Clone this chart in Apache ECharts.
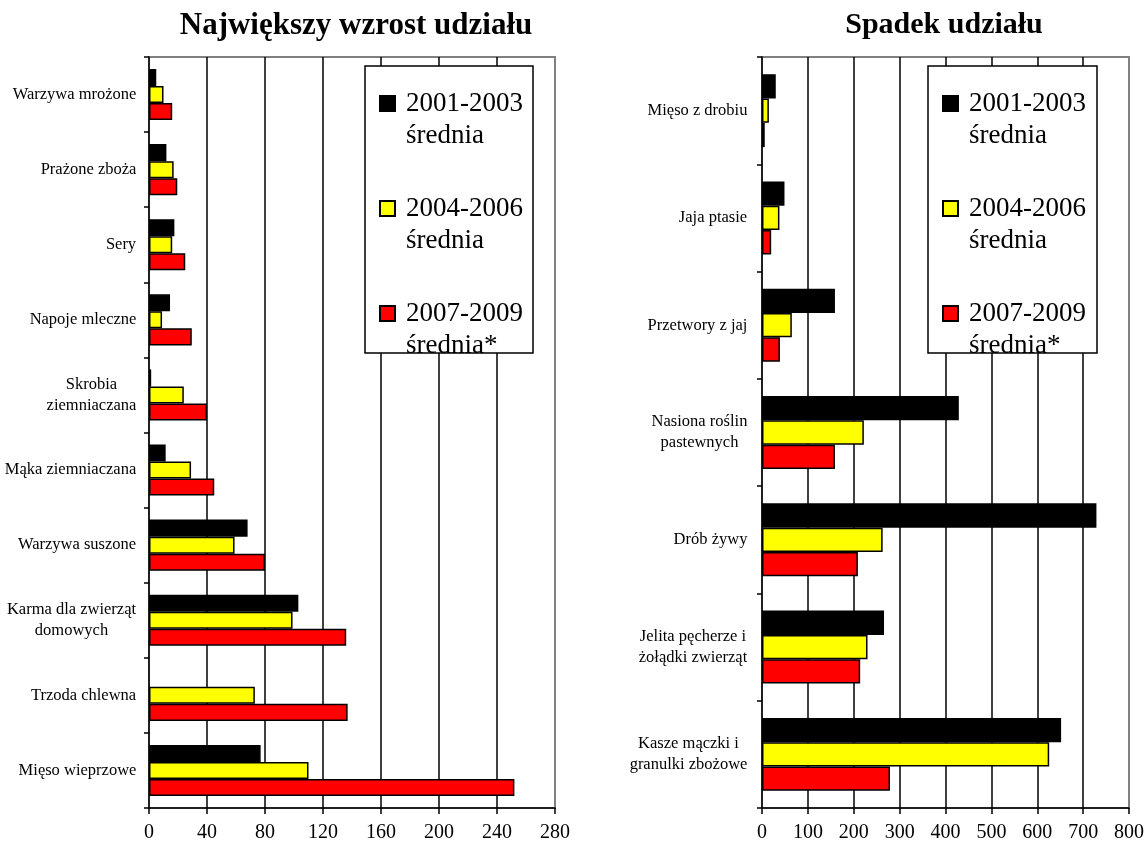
<!DOCTYPE html>
<html>
<head>
<meta charset="utf-8">
<script src="https://cdn.jsdelivr.net/npm/echarts@6/dist/echarts.min.js"></script>
<style>
html,body{margin:0;padding:0;background:#fff;}
#chart{width:1147px;height:849px;}
</style>
</head>
<body>
<div id="chart"></div>
<script>
// ---- data ----
const seriesNames = ['2001-2003 średnia', '2004-2006 średnia', '2007-2009 średnia*'];
const leftTitle = 'Największy wzrost udziału';
const rightTitle = 'Spadek udziału';

const leftCategories = ['Warzywa mrożone', 'Prażone zboża', 'Sery', 'Napoje mleczne', 'Skrobia\nziemniaczana',
  'Mąka ziemniaczana', 'Warzywa suszone', 'Karma dla zwierząt\ndomowych', 'Trzoda chlewna', 'Mięso wieprzowe'];
const left2001 = [5, 12, 17.5, 14.5, 1.5, 11.5, 68, 103, null, 77];
const left2004 = [10, 17, 16, 9, 24, 29, 59, 99, 73, 110];
const left2007 = [16, 19.5, 25, 29.5, 40, 45, 80, 136, 137, 252];
const leftTicks = [0, 40, 80, 120, 160, 200, 240, 280];

const rightCategories = ['Mięso z drobiu', 'Jaja ptasie', 'Przetwory z jaj', 'Nasiona roślin\npastewnych',
  'Drób żywy', 'Jelita pęcherze i\nżołądki zwierząt', 'Kasze mączki i\ngranulki zbożowe'];
const right2001 = [30, 49, 159, 429, 729, 266, 652];
const right2004 = [15, 38, 65, 222, 263, 230, 626];
const right2007 = [6, 20, 39, 159, 209, 214, 279];
const rightTicks = [0, 100, 200, 300, 400, 500, 600, 700, 800];

// ---- helpers ----
const FF = "'Liberation Serif', 'Times New Roman', serif";
const CAT_FS = 16.5;
const ctx = document.createElement('canvas').getContext('2d');
ctx.font = CAT_FS + "px 'Liberation Serif'";
function makeRich(cats, prefix) {
  const rich = {};
  cats.forEach((c, i) => {
    const w = Math.max(...c.split('\n').map(l => ctx.measureText(l).width));
    rich[prefix + i] = { width: Math.ceil(w) + 1, align: 'center', fontSize: CAT_FS, fontFamily: FF, lineHeight: 21, color: '#000' };
  });
  return rich;
}
function makeFormatter(prefix) {
  return (v, i) => v.split('\n').map(l => '{' + prefix + i + '|' + l + '}').join('\n');
}
const colors = ['#000000', '#FFFF00', '#FF0000'];
function bar(name, data, axisIdx, ci) {
  return {
    type: 'bar', name: name, data: data, xAxisIndex: axisIdx, yAxisIndex: axisIdx,
    barGap: '0%', barCategoryGap: '32%',
    itemStyle: { color: colors[ci], borderColor: '#000', borderWidth: 1.5 },
    emphasis: { disabled: true }, silent: true
  };
}
function xAxisDef(idx, ticks) {
  return {
    type: 'value', gridIndex: idx, min: ticks[0], max: ticks[ticks.length - 1], interval: ticks[1] - ticks[0],
    axisLine: { show: true, lineStyle: { color: '#000', width: 1.5 } },
    axisTick: { show: true, length: 6, lineStyle: { color: '#000', width: 1.5 } },
    axisLabel: { fontSize: 20, fontFamily: FF, color: '#000', margin: 15 },
    splitLine: { show: true, showMinLine: false, showMaxLine: false, lineStyle: { color: '#000', width: 1.5 } }
  };
}
function yAxisDef(idx, cats, prefix, margin) {
  return {
    type: 'category', gridIndex: idx, data: cats, inverse: true,
    axisLine: { show: true, lineStyle: { color: '#000', width: 1.5 } },
    axisTick: { show: true, length: 5, lineStyle: { color: '#000', width: 1.5 } },
    axisLabel: { margin: margin, formatter: makeFormatter(prefix), rich: makeRich(cats, prefix), fontSize: CAT_FS, fontFamily: FF, color: '#000' },
    splitLine: { show: false }
  };
}
function legendDef(left, top) {
  return {
    orient: 'vertical', left: left, top: top, padding: 0, itemWidth: 15, itemHeight: 15, itemGap: 9,
    selectedMode: false, data: seriesNames, icon: 'rect',
    formatter: n => '\n' + n.replace(' ', '\n'),
    textStyle: { fontSize: 27, lineHeight: 32, fontFamily: FF, color: '#000', padding: [0, 0, 0, 6] }
  };
}

const chart = echarts.init(document.getElementById('chart'), null, { renderer: 'canvas' });
chart.setOption({
  animation: false,
  backgroundColor: '#fff',
  title: [
    { text: leftTitle, left: 356, top: 10, padding: 0, textAlign: 'center', textStyle: { fontSize: 31, fontWeight: 'bold', fontFamily: FF, color: '#000' } },
    { text: rightTitle, left: 944, top: 10, padding: 0, textAlign: 'center', textStyle: { fontSize: 30, fontWeight: 'bold', fontFamily: FF, color: '#000' } }
  ],
  grid: [
    { left: 149, top: 57, width: 406, height: 751, show: true, borderColor: '#808080', borderWidth: 2, backgroundColor: 'transparent' },
    { left: 762, top: 57, width: 369, height: 751, show: true, borderColor: '#808080', borderWidth: 2, backgroundColor: 'transparent' }
  ],
  xAxis: [xAxisDef(0, leftTicks), xAxisDef(1, rightTicks)],
  yAxis: [yAxisDef(0, leftCategories, 'L', 12), yAxisDef(1, rightCategories, 'R', 14)],
  legend: [legendDef(379, 55.5), legendDef(942, 55.5)],
  graphic: [
    { type: 'rect', z: 3, silent: true, shape: { x: 365, y: 66, width: 168, height: 287 }, style: { fill: '#fff', stroke: '#000', lineWidth: 1.5 } },
    { type: 'rect', z: 3, silent: true, shape: { x: 928, y: 66, width: 169, height: 287 }, style: { fill: '#fff', stroke: '#000', lineWidth: 1.5 } }
  ],
  series: [
    bar(seriesNames[0], left2001, 0, 0),
    bar(seriesNames[1], left2004, 0, 1),
    bar(seriesNames[2], left2007, 0, 2),
    bar(seriesNames[0], right2001, 1, 0),
    bar(seriesNames[1], right2004, 1, 1),
    bar(seriesNames[2], right2007, 1, 2)
  ]
});
</script>
</body>
</html>
